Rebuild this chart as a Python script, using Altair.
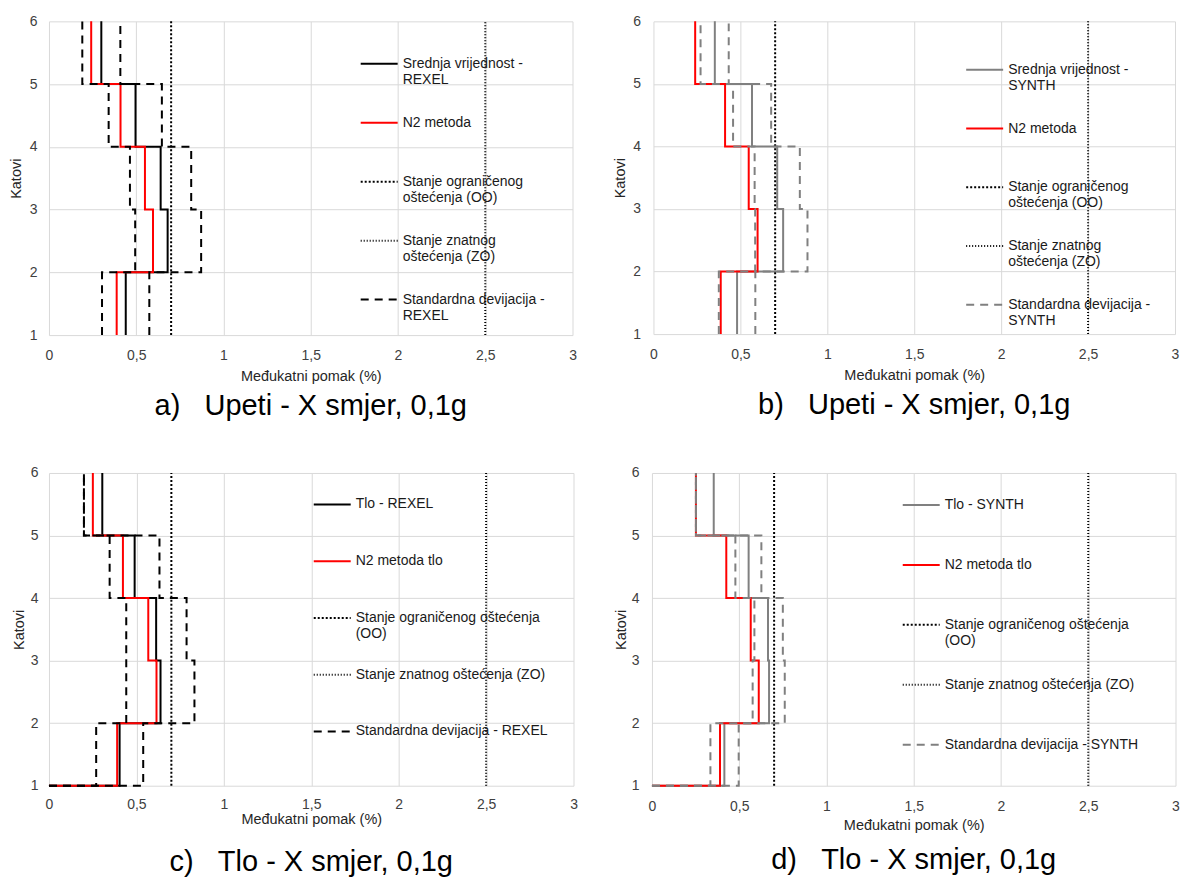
import altair as alt
import pandas as pd

FONT = "Liberation Sans"
NB = "\u00a0"

# ---------------- data ----------------
storeys = [1, 2, 3, 4, 5, 6]
x_ticks = [0, 0.5, 1, 1.5, 2, 2.5, 3]
limit_oo = 0.7
limit_zo = 2.5

# a) Upeti - REXEL (values per storey interval 1-2 ... 5-6)
mean_a = [0.44, 0.68, 0.64, 0.496, 0.30]
n2_a = [0.388, 0.596, 0.55, 0.41, 0.242]
std_lo_a = [0.304, 0.494, 0.464, 0.342, 0.191]
std_hi_a = [0.575, 0.872, 0.815, 0.647, 0.409]

# b) Upeti - SYNTH
mean_b = [0.481, 0.746, 0.712, 0.567, 0.353]
n2_b = [0.387, 0.599, 0.548, 0.412, 0.240]
std_lo_b = [0.376, 0.585, 0.582, 0.458, 0.271]
std_hi_b = [0.586, 0.886, 0.842, 0.677, 0.433]

# c) Tlo - REXEL
mean_c = [0.404, 0.638, 0.613, 0.49, 0.305]
n2_c = [0.39, 0.615, 0.568, 0.423, 0.251]
std_lo_c = [0.27, 0.442, 0.442, 0.347, 0.20]
std_hi_c = [0.539, 0.832, 0.787, 0.632, 0.20]

# d) Tlo - SYNTH
mean_d = [0.415, 0.671, 0.665, 0.554, 0.354]
n2_d = [0.39, 0.612, 0.566, 0.426, 0.252]
std_lo_d = [0.335, 0.577, 0.587, 0.478, 0.252]
std_hi_d = [0.497, 0.761, 0.75, 0.627, 0.252]

labels_a = ["Srednja vrijednost -|REXEL", "N2 metoda| ", "Stanje ograničenog|oštećenja (OO)",
            "Stanje znatnog|oštećenja (ZO)", "Standardna devijacija -|REXEL"]
labels_b = ["Srednja vrijednost -|SYNTH", "N2 metoda| ", "Stanje ograničenog|oštećenja (OO)",
            "Stanje znatnog|oštećenja (ZO)", "Standardna devijacija -|SYNTH"]
labels_c = ["Tlo - REXEL| ", "N2 metoda tlo| ", "Stanje ograničenog oštećenja|(OO)",
            "Stanje znatnog oštećenja (ZO)| ", "Standardna devijacija - REXEL| "]
labels_d = ["Tlo - SYNTH| ", "N2 metoda tlo| ", "Stanje ograničenog oštećenja|(OO)",
            "Stanje znatnog oštećenja (ZO)| ", "Standardna devijacija - SYNTH| "]

captions = ["a)" + NB * 3 + "Upeti - X smjer, 0,1g", "b)" + NB * 3 + "Upeti - X smjer, 0,1g",
            "c)" + NB * 3 + "Tlo - X smjer, 0,1g", "d)" + NB * 3 + "Tlo - X smjer, 0,1g"]

colors_rexel = ["#000000", "#ff0000", "#000000", "#000000", "#000000"]
colors_synth = ["#808080", "#ff0000", "#000000", "#000000", "#808080"]
dashes = [[1, 0], [1, 0], [2, 2], [1, 2], [8, 6]]


def steps(values, start_zero):
    xs, ys = [], []
    if start_zero:
        xs.append(0)
        ys.append(storeys[0])
    for i, v in enumerate(values):
        xs += [v, v]
        ys += [storeys[i], storeys[i + 1]]
    return xs, ys


def panel_df(labels, mean, n2, lo, hi, start_zero):
    rows = []

    def add(series, part, xs, ys):
        for k, (x, y) in enumerate(zip(xs, ys)):
            rows.append(dict(series=series, part=part, x=x, y=y, ord=k))

    add(labels[0], "mean", *steps(mean, start_zero))
    add(labels[1], "n2", *steps(n2, start_zero))
    add(labels[2], "oo", [limit_oo, limit_oo], [storeys[0], storeys[-1]])
    add(labels[3], "zo", [limit_zo, limit_zo], [storeys[0], storeys[-1]])
    add(labels[4], "lo", *steps(lo, start_zero))
    add(labels[4], "hi", *steps(hi, start_zero))
    return pd.DataFrame(rows)


def make_panel(df, labels, colors, caption, w, h, lx, ly, rp,
               ylp, ytp, xlp, xtp, cap_off, y_title_x=None):
    leg = alt.Legend(
        title=None, orient="none", legendX=lx, legendY=ly, direction="vertical",
        symbolType="stroke", symbolSize=1369, symbolStrokeWidth=2,
        labelExpr="split(datum.label, '|')", labelFont=FONT, labelFontSize=14,
        labelColor="#1a1a1a", labelBaseline="middle",
        labelOffset=4, labelLimit=400, rowPadding=rp, padding=0,
    )
    yaxis_kw = dict(values=storeys, format="d", title="Katovi", labelPadding=ylp,
                    titlePadding=ytp, minExtent=0, labelFlush=False)
    if y_title_x is not None:
        yaxis_kw["titleX"] = y_title_x
        yaxis_kw["titleY"] = h / 2
    return alt.Chart(df).mark_line(strokeWidth=2, strokeJoin="miter").encode(
        x=alt.X("x:Q", scale=alt.Scale(domain=[0, 3], nice=False, zero=False),
                axis=alt.Axis(values=x_ticks,
                              labelExpr="replace(format(datum.value, '~g'), '.', ',')",
                              title="Međukatni pomak (%)", labelPadding=xlp,
                              titlePadding=xtp, labelFlush=False, labelOverlap=False)),
        y=alt.Y("y:Q", scale=alt.Scale(domain=[1, 6], nice=False, zero=False),
                axis=alt.Axis(**yaxis_kw)),
        color=alt.Color("series:N", scale=alt.Scale(domain=labels, range=colors), legend=leg),
        strokeDash=alt.StrokeDash("series:N", scale=alt.Scale(domain=labels, range=dashes), legend=leg),
        detail="part:N",
        order="ord:Q",
    ).properties(
        width=w, height=h,
        title=alt.TitleParams(text=caption, orient="bottom", anchor="middle", fontSize=29,
                              fontWeight="normal", font=FONT, color="#000000", offset=cap_off),
    )


df_a = panel_df(labels_a, mean_a, n2_a, std_lo_a, std_hi_a, False)
df_b = panel_df(labels_b, mean_b, n2_b, std_lo_b, std_hi_b, False)
df_c = panel_df(labels_c, mean_c, n2_c, std_lo_c, std_hi_c, True)
df_d = panel_df(labels_d, mean_d, n2_d, std_lo_d, std_hi_d, True)

pa = make_panel(df_a, labels_a, colors_rexel, captions[0], 524, 314, 311, 23, 16,
                12, 4, 13, 7, 9.5, y_title_x=-25.5)
pb = make_panel(df_b, labels_b, colors_synth, captions[1], 522, 313, 312, 29, 15.8,
                13, 4.7, 13, 7, 9.5)
pc = make_panel(df_c, labels_c, colors_rexel, captions[2], 525, 313, 264, 12, 13.8,
                11, 1.2, 12, 1, 21.5, y_title_x=-22)
pd_ = make_panel(df_d, labels_d, colors_synth, captions[3], 524, 313, 250, 12.5, 17,
                 13, 2.7, 14, 5, 13.5)

row1 = alt.hconcat(pa, pb, spacing=36).resolve_scale(color="independent", strokeDash="independent").resolve_legend(color="independent", strokeDash="independent")
row2 = alt.hconcat(pc, pd_, spacing=35.5).resolve_scale(color="independent", strokeDash="independent").resolve_legend(color="independent", strokeDash="independent")

chart = alt.vconcat(row1, row2, spacing=45).resolve_scale(
    color="independent", strokeDash="independent"
).resolve_legend(color="independent", strokeDash="independent").properties(
    padding={"left": 0, "top": 6, "right": 0, "bottom": 0}
).configure(background="white", font=FONT).configure_view(stroke=None).configure_axis(
    gridColor="#d9d9d9", gridWidth=1, domain=False, ticks=False, tickSize=0,
    labelFont=FONT, titleFont=FONT, labelFontSize=14, titleFontSize=14.5,
    labelColor="#404040", titleColor="#262626", titleFontWeight="normal",
)

chart.save("out.html", embed_options={"renderer": "svg", "actions": False})
